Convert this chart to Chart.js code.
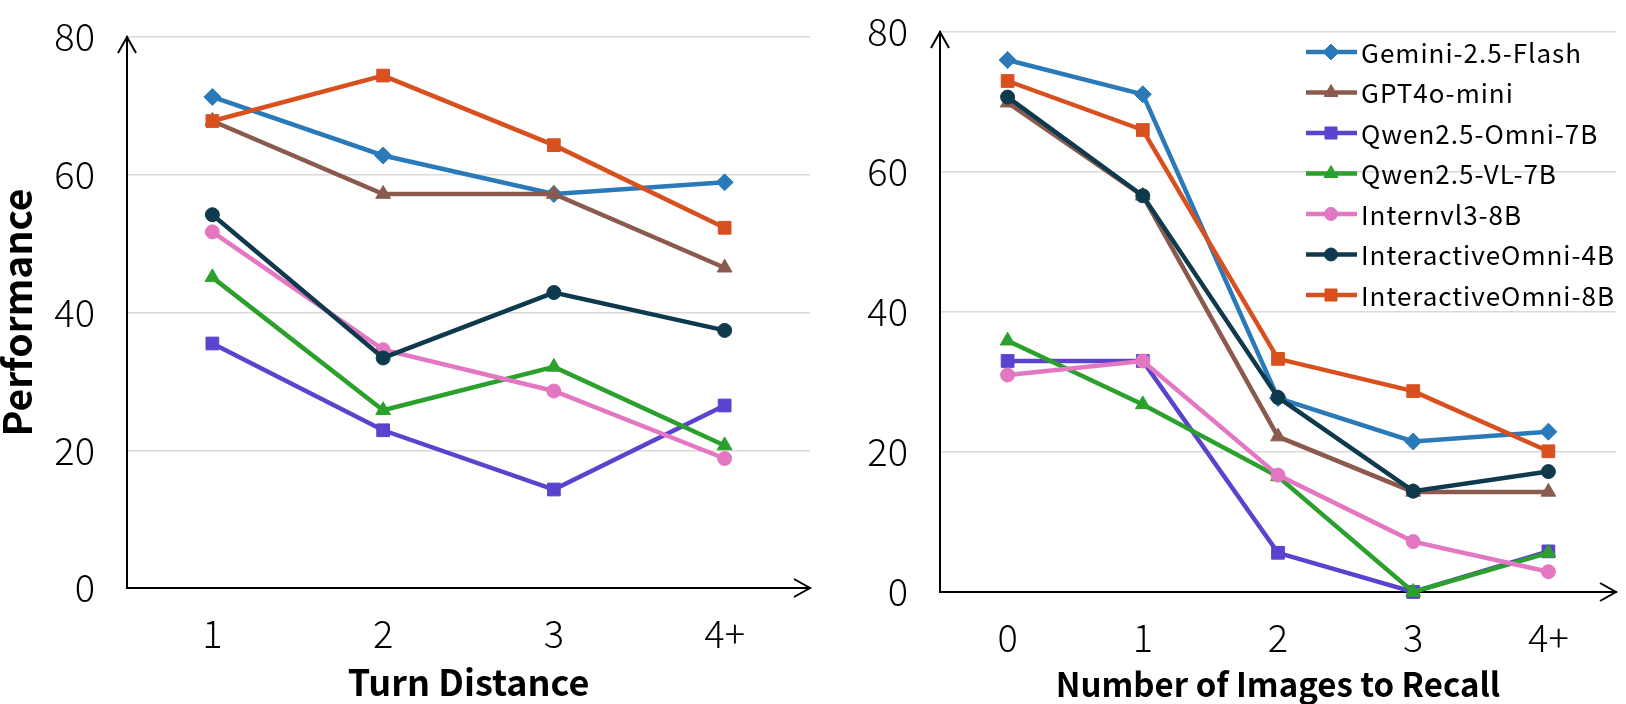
<!DOCTYPE html>
<html>
<head>
<meta charset="utf-8">
<script src="https://cdn.jsdelivr.net/npm/chart.js@4.4.1/dist/chart.umd.min.js"></script>
<style>
  body { margin: 0; background: #fff; }
  #left { position: absolute; left: 0; top: 0; }
  #right { position: absolute; left: 820px; top: 0; }
</style>
</head>
<body>
<canvas id="left" width="820" height="704"></canvas>
<canvas id="right" width="806" height="704"></canvas>
<script>
// categories
const turnLabels = ['1', '2', '3', '4+'];
const recallLabels = ['0', '1', '2', '3', '4+'];
const yTicks = [0, 20, 40, 60, 80];

const models = ['Gemini-2.5-Flash', 'GPT4o-mini', 'Qwen2.5-Omni-7B', 'Qwen2.5-VL-7B',
  'Internvl3-8B', 'InteractiveOmni-4B', 'InteractiveOmni-8B'];

// Turn Distance
const geminiTurn = [71.3, 62.8, 57.2, 58.9];
const gptTurn = [67.8, 57.2, 57.2, 46.5];
const omniTurn = [35.5, 22.9, 14.3, 26.5];
const vlTurn = [45.1, 25.8, 32.1, 20.7];
const internTurn = [51.7, 34.6, 28.6, 18.8];
const io4Turn = [54.2, 33.4, 42.9, 37.4];
const io8Turn = [67.8, 74.4, 64.3, 52.3];

// Number of Images to Recall
const geminiRecall = [76.0, 71.1, 27.7, 21.5, 22.9];
const gptRecall = [69.9, 56.6, 22.2, 14.3, 14.3];
const omniRecall = [33.0, 33.0, 5.6, 0, 5.8];
const vlRecall = [35.9, 26.8, 16.5, 0, 5.6];
const internRecall = [31.0, 33.0, 16.7, 7.2, 2.9];
const io4Recall = [70.7, 56.6, 27.8, 14.4, 17.2];
const io8Recall = [73.0, 66.0, 33.3, 28.7, 20.1];

const colors = ['#2a7ab9', '#8b5a4e', '#5b43cf', '#2ca02c', '#e377c2', '#0f3a4e', '#d9501f'];
const styles = ['rectRot', 'triangle', 'rect', 'triangle', 'circle', 'circle', 'rect'];
const radii = [8.5, 8.5, 9, 8.5, 7, 7, 9];

const FONT = '"Noto Sans CJK SC", "Noto Sans", sans-serif';

function makeSets(series) {
  return series.map((d, i) => ({
    label: models[i],
    data: d,
    borderColor: colors[i],
    backgroundColor: colors[i],
    pointBackgroundColor: colors[i],
    pointBorderColor: colors[i],
    pointStyle: styles[i],
    pointRadius: radii[i],
    pointBorderWidth: 1,
    borderWidth: 4.5,
    tension: 0,
    clip: false,
    order: series.length - i
  }));
}

const axisArrows = {
  id: 'axisArrows',
  afterDraw(chart) {
    const { ctx, chartArea: a } = chart;
    ctx.save();
    ctx.strokeStyle = '#000';
    ctx.lineWidth = 2;
    ctx.beginPath();
    ctx.moveTo(a.left - 9, a.top + 16);
    ctx.lineTo(a.left, a.top);
    ctx.lineTo(a.left + 9, a.top + 16);
    ctx.moveTo(a.right - 16, a.bottom - 9);
    ctx.lineTo(a.right, a.bottom);
    ctx.lineTo(a.right - 16, a.bottom + 9);
    ctx.stroke();
    ctx.restore();
  }
};

const innerLegend = {
  id: 'innerLegend',
  afterDraw(chart, args, opts) {
    if (!opts.show) return;
    const ctx = chart.ctx;
    chart.data.datasets.forEach((ds, i) => {
      const y = opts.top + i * opts.step;
      ctx.save();
      ctx.strokeStyle = ds.borderColor;
      ctx.lineWidth = 4.5;
      ctx.beginPath();
      ctx.moveTo(opts.left, y);
      ctx.lineTo(opts.left + 51, y);
      ctx.stroke();
      ctx.fillStyle = ds.backgroundColor;
      ctx.lineWidth = 1;
      Chart.helpers.drawPoint(ctx, { pointStyle: ds.pointStyle, radius: ds.pointRadius - 0.5, borderWidth: 1, rotation: 0 }, opts.left + 25, y);
      ctx.fillStyle = '#000';
      ctx.font = '26px ' + FONT;
      ctx.letterSpacing = '1px';
      ctx.textBaseline = 'middle';
      ctx.textAlign = 'left';
      ctx.fillText(ds.label, opts.left + 55, y + 1);
      ctx.restore();
    });
  }
};

function makeChart(id, labels, series, xTitle, yTitle, box) {
  new Chart(document.getElementById(id), {
    type: 'line',
    data: { labels: labels, datasets: makeSets(series) },
    plugins: [axisArrows, innerLegend],
    options: {
      responsive: false,
      animation: false,
      layout: { padding: { top: box.top, right: box.right, left: 0, bottom: 0 } },
      plugins: {
        legend: { display: false },
        tooltip: { enabled: false },
        innerLegend: box.legend
      },
      scales: {
        x: {
          offset: true,
          grid: { display: false },
          border: { display: true, color: '#000', width: 2 },
          ticks: { color: '#000', padding: 15, font: { family: FONT, size: 38, weight: '300' } },
          title: { display: true, text: xTitle, color: '#000', padding: 0, font: { family: FONT, size: box.titleSize, weight: 'bold' } },
          afterFit(s) { s.height = box.xh; s.paddingLeft = 0; s.paddingRight = 0; }
        },
        y: {
          min: 0, max: 80,
          afterBuildTicks(s) { s.ticks = yTicks.map(v => ({ value: v })); },
          grid: {
            drawTicks: false,
            lineWidth: 1.5,
            color: c => (c.tick && c.tick.value === 0) ? 'rgba(0,0,0,0)' : '#d9d9d9'
          },
          border: { display: true, color: '#000', width: 2 },
          ticks: { color: '#000', padding: 32, font: { family: FONT, size: 38, weight: '300' } },
          title: { display: !!yTitle, text: yTitle || '', color: '#000', padding: 0, font: { family: FONT, size: 39, weight: 'bold', lineHeight: 0.9 } },
          afterFit(s) { s.width = box.yw; s.paddingTop = 0; s.paddingBottom = 0; }
        }
      }
    }
  });
}

makeChart('left', turnLabels,
  [geminiTurn, gptTurn, omniTurn, vlTurn, internTurn, io4Turn, io8Turn],
  'Turn Distance', 'Performance',
  { top: 37, right: 10, xh: 116, yw: 127, titleSize: 36, legend: { show: false } });

makeChart('right', recallLabels,
  [geminiRecall, gptRecall, omniRecall, vlRecall, internRecall, io4Recall, io8Recall],
  'Number of Images to Recall', null,
  { top: 32, right: 6, xh: 112, yw: 120, titleSize: 33, legend: { show: true, left: 486, top: 52, step: 40.5 } });
</script>
</body>
</html>
